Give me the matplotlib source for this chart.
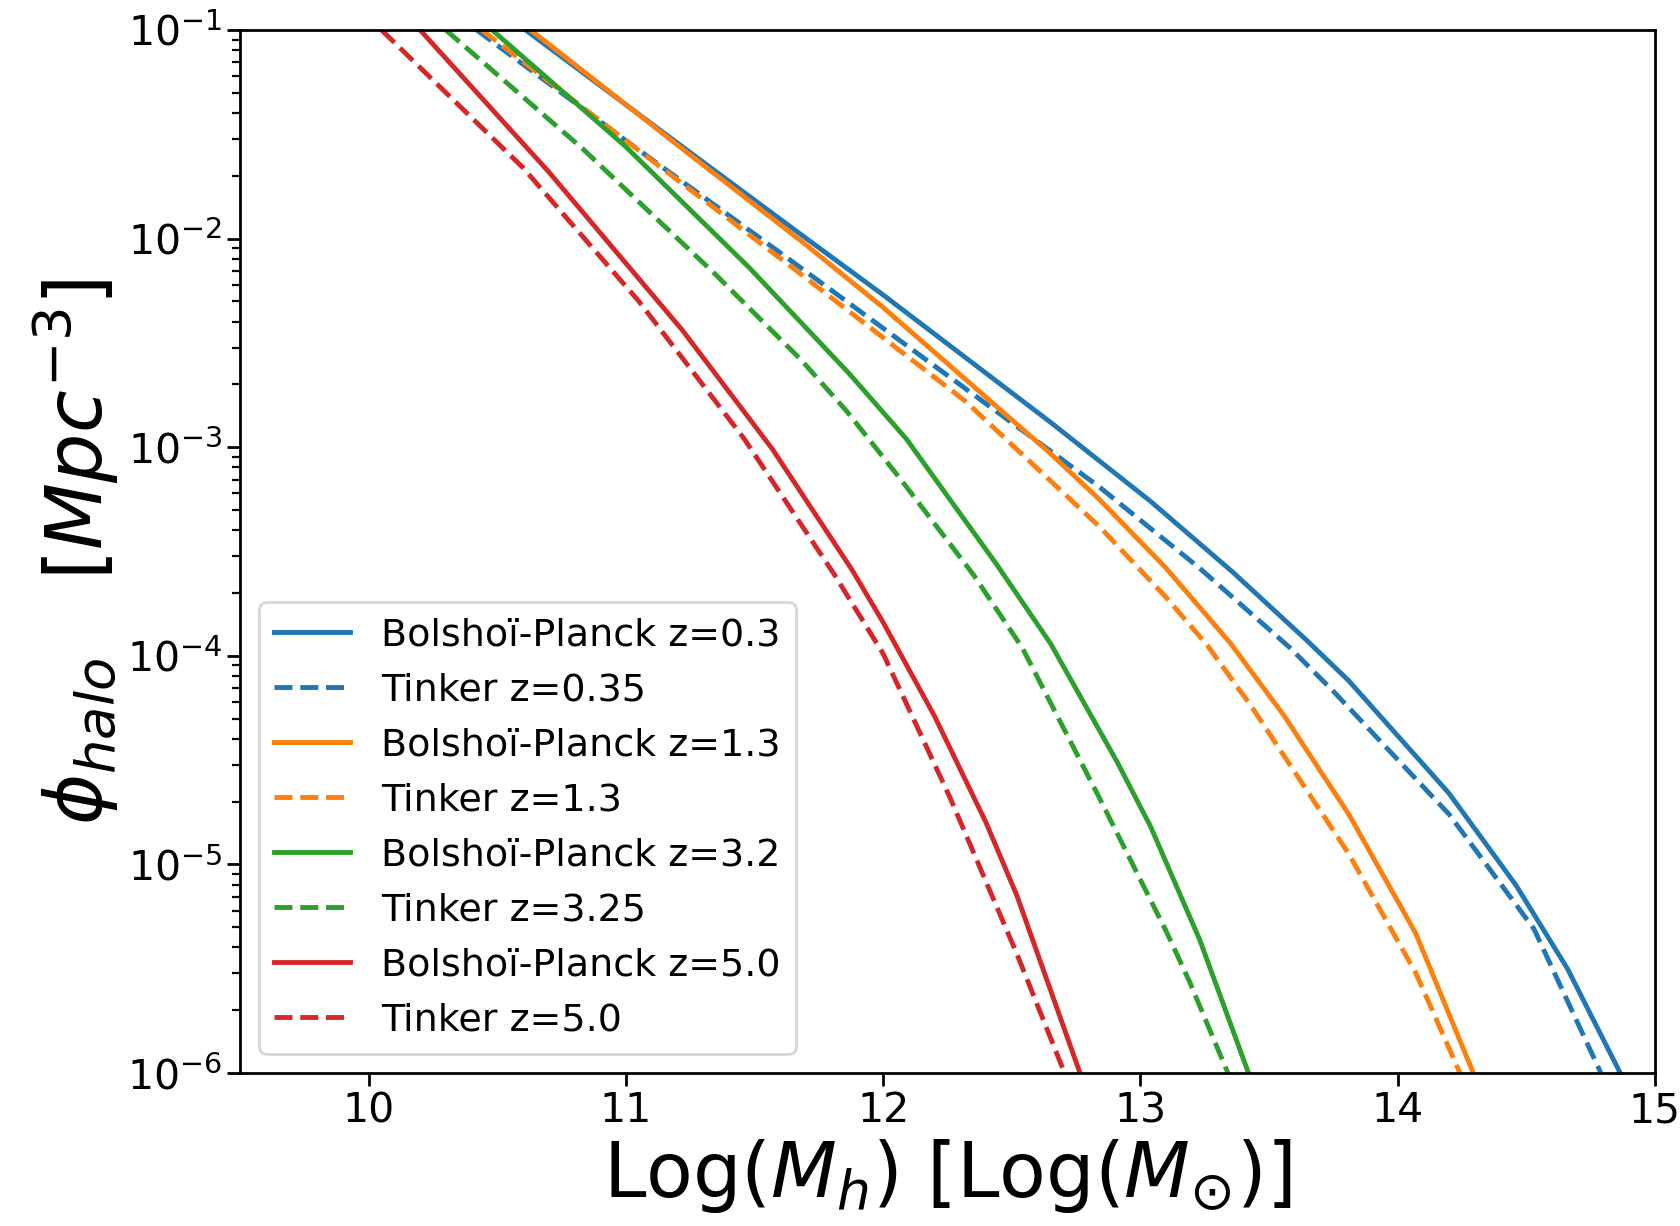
import matplotlib
matplotlib.use('Agg')
import matplotlib.pyplot as plt
import numpy as np

# log10(M_h) and log10(phi)
bp03_x = [10.61, 11.22, 11.68, 12.00, 12.65, 13.04, 13.36, 13.65, 13.81, 14.20, 14.46, 14.66, 14.865]
bp03_y = [-1.00, -1.56, -1.98, -2.27, -2.88, -3.26, -3.60, -3.93, -4.12, -4.66, -5.10, -5.50, -6.0]
tk035_x = [10.42, 11.00, 11.68, 12.84, 13.23, 13.58, 13.75, 14.20, 14.53, 14.79]
tk035_y = [-1.00, -1.53, -2.14, -3.19, -3.58, -3.96, -4.17, -4.76, -5.31, -6.0]

bp13_x = [10.63, 11.22, 11.68, 12.00, 12.65, 12.84, 13.10, 13.35, 13.56, 13.81, 14.07, 14.294]
bp13_y = [-1.00, -1.57, -2.01, -2.33, -3.03, -3.25, -3.58, -3.94, -4.29, -4.76, -5.33, -6.0]
tk13_x = [10.44, 11.00, 11.68, 12.32, 12.84, 13.10, 13.26, 13.43, 13.81, 14.07, 14.242]
tk13_y = [-1.00, -1.53, -2.17, -2.78, -3.38, -3.72, -3.95, -4.24, -4.95, -5.52, -6.0]

bp32_x = [10.48, 11.00, 11.48, 11.87, 12.09, 12.44, 12.65, 12.91, 13.04, 13.23, 13.42]
bp32_y = [-1.00, -1.56, -2.14, -2.65, -2.96, -3.56, -3.94, -4.51, -4.82, -5.36, -6.0]
tk325_x = [10.30, 10.83, 11.35, 11.68, 11.86, 12.07, 12.35, 12.54, 12.84, 13.10, 13.19, 13.34]
tk325_y = [-1.00, -1.567, -2.174, -2.58, -2.83, -3.157, -3.61, -3.96, -4.68, -5.32, -5.56, -6.0]

bp50_x = [10.20, 10.70, 11.22, 11.57, 11.88, 12.00, 12.20, 12.40, 12.52, 12.765]
bp50_y = [-1.00, -1.68, -2.44, -3.01, -3.59, -3.84, -4.29, -4.80, -5.15, -6.0]
tk50_x = [10.05, 10.60, 11.05, 11.46, 11.81, 12.00, 12.26, 12.52, 12.705]
tk50_y = [-1.00, -1.66, -2.30, -2.96, -3.61, -3.99, -4.68, -5.43, -6.0]

series = [
    (bp03_x, bp03_y, 'C0', '-', 'Bolshoï-Planck z=0.3'),
    (tk035_x, tk035_y, 'C0', '--', 'Tinker z=0.35'),
    (bp13_x, bp13_y, 'C1', '-', 'Bolshoï-Planck z=1.3'),
    (tk13_x, tk13_y, 'C1', '--', 'Tinker z=1.3'),
    (bp32_x, bp32_y, 'C2', '-', 'Bolshoï-Planck z=3.2'),
    (tk325_x, tk325_y, 'C2', '--', 'Tinker z=3.25'),
    (bp50_x, bp50_y, 'C3', '-', 'Bolshoï-Planck z=5.0'),
    (tk50_x, tk50_y, 'C3', '--', 'Tinker z=5.0'),
]

fig = plt.figure(figsize=(16.81, 12.26), dpi=100)
ax = fig.add_axes([0.1428, 0.1248, 0.8417, 0.8507])

for x, y, c, ls, lab in series:
    ax.plot(x, 10 ** np.array(y), color=c, ls=ls, lw=3.5, label=lab)

ax.set_yscale('log')
ax.set_xlim(9.5, 15)
ax.set_ylim(1e-6, 1e-1)
ax.set_xticks([10, 11, 12, 13, 14, 15])

ax.tick_params(which='major', labelsize=29.5, length=9.5, width=2.0)
ax.tick_params(which='minor', length=5.5, width=1.6)
for s in ax.spines.values():
    s.set_linewidth(2.0)

ax.set_xlabel(r'Log($M_h$) [Log($M_{\odot}$)]', fontsize=55)
ax.set_ylabel(r'$\phi_{halo} \quad [Mpc^{-3}]$', fontsize=56)

leg = ax.legend(loc='lower left', fontsize=27.4, handlelength=2.0)
leg.get_frame().set_linewidth(2.0)

fig.savefig('out.png', dpi=100)
